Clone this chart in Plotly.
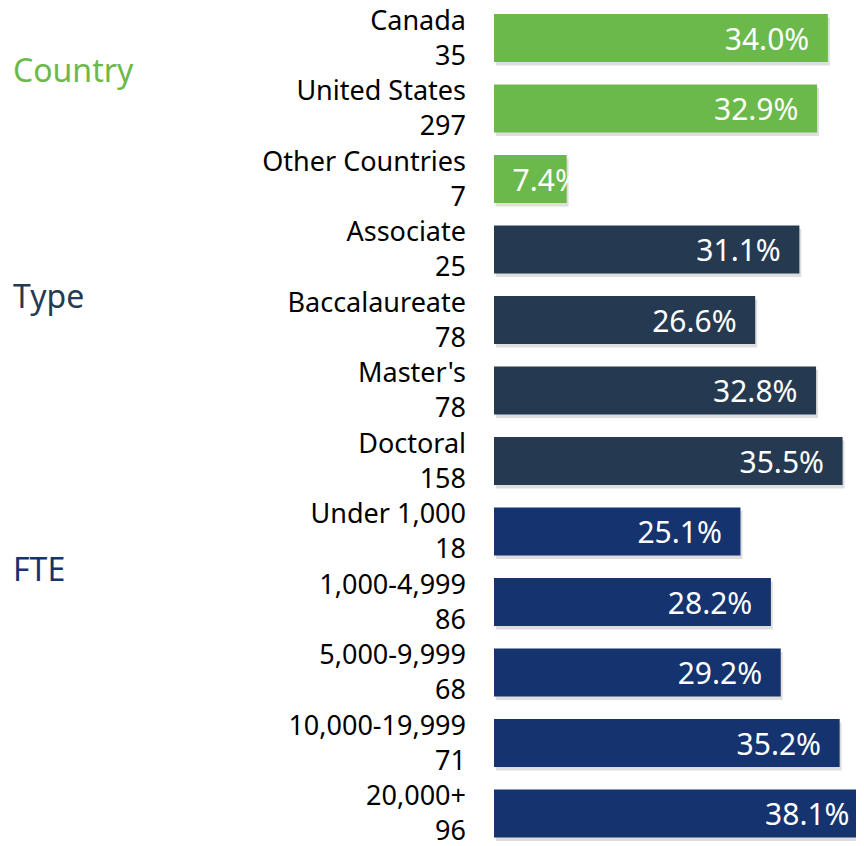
import plotly.graph_objects as go

# rows top to bottom
categories = ["Canada", "United States", "Other Countries",
              "Associate", "Baccalaureate", "Master's", "Doctoral",
              "Under 1,000", "1,000-4,999", "5,000-9,999", "10,000-19,999", "20,000+"]
counts = [35, 297, 7, 25, 78, 78, 158, 18, 86, 68, 71, 96]
pct = [34.0, 32.9, 7.4, 31.1, 26.6, 32.8, 35.5, 25.1, 28.2, 29.2, 35.2, 38.1]
groups = ["Country"] * 3 + ["Type"] * 4 + ["FTE"] * 5

group_colors = {"Country": "#6ab94a", "Type": "#253a50", "FTE": "#15336f"}
# the page body adds an 8px margin, so the figure is 8px smaller than the window
W, H = 856, 838
L = 486
ROW = 70.5  # px per row

rows = list(range(len(categories)))
ticktext = [f"{c}<br>{n}" for c, n in zip(categories, counts)]
bar_colors = [group_colors[g] for g in groups]

fig = go.Figure()
# soft drop shadow under each bar
fig.add_trace(go.Bar(
    x=pct, y=rows, orientation="h", base=0.2,
    marker=dict(color="rgba(0,0,0,0.13)", line=dict(width=0)),
    width=0.68, offset=-0.34 + 0.05,
    hoverinfo="skip",
))

# long bars: label at the end; short bars: label from the start
for short in (False, True):
    idx = [i for i, p in enumerate(pct) if (p < 10) == short]
    pad = "\u00a0\u00a0"
    fig.add_trace(go.Bar(
        x=[pct[i] for i in idx], y=[rows[i] for i in idx], orientation="h",
        marker=dict(color=[bar_colors[i] for i in idx], line=dict(width=0)),
        width=0.68, offset=-0.34,
        text=[(pad + f"{pct[i]:.1f}%") if short else (f"{pct[i]:.1f}%" + pad) for i in idx],
        textposition="inside", insidetextanchor="start" if short else "end",
        constraintext="none",
        textfont=dict(color="white", size=30, family="Noto Sans"),
        hoverinfo="skip",
    ))

top = -30 / ROW
fig.update_layout(
    width=W, height=H,
    margin=dict(l=L, r=0, t=0, b=0),
    plot_bgcolor="white", paper_bgcolor="white",
    showlegend=False, barmode="overlay",
    font=dict(family="Noto Sans", color="black"),
)
fig.update_xaxes(range=[0, 37.68], visible=False, fixedrange=True)
fig.update_yaxes(
    tickvals=rows, ticktext=ticktext, range=[top + H / ROW, top],
    showgrid=False, zeroline=False, showline=False, ticks="",
    automargin=False, ticklabeloverflow="allow",
    ticklabelstandoff=27, tickfont=dict(size=27, color="black"),
)

# group headings at the far left
heads = [("Country", 62), ("Type", 287), ("FTE", 560)]
for name, ypix in heads:
    fig.add_annotation(
        text=name, xref="paper", yref="paper",
        x=(3 - L) / (W - L), y=1 - ypix / H,
        xanchor="left", yanchor="middle", showarrow=False,
        font=dict(size=32, color=group_colors[name], family="Noto Sans"),
    )

fig.write_html("out.html")
